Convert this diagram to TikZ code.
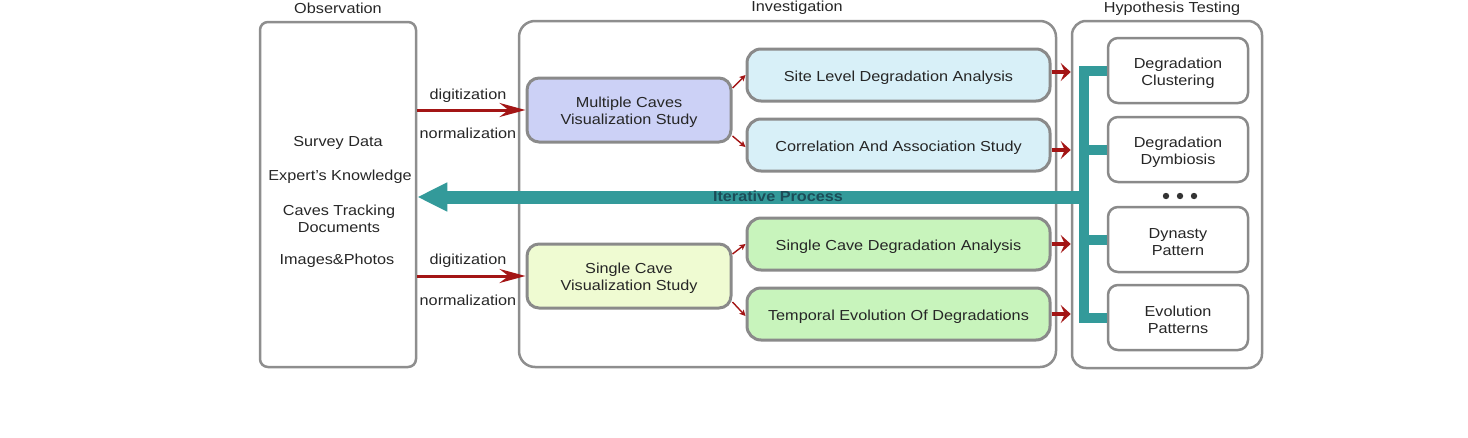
\documentclass[tikz,border=0pt]{standalone}
\usepackage{fontspec}
\setmainfont{Liberation Sans}[FakeStretch=1.12]
\usetikzlibrary{arrows.meta}
\definecolor{framegray}{HTML}{8E8E8E}
\definecolor{boxgray}{HTML}{8A8A8A}
\definecolor{mcfill}{HTML}{CCD1F6}
\definecolor{scfill}{HTML}{EFFBD2}
\definecolor{slfill}{HTML}{D8F0F8}
\definecolor{sdfill}{HTML}{C8F4BC}
\definecolor{tealc}{HTML}{339A9A}
\definecolor{darkred}{HTML}{A31515}
\definecolor{itertext}{HTML}{1C4C58}
\definecolor{dotc}{HTML}{333333}
\begin{document}
\begin{tikzpicture}[x=1pt,y=-1pt,
  every node/.style={font=\fontsize{14.5}{17}\selectfont, inner sep=0pt, align=center, text=black!85},
  txt/.style={yshift=-2.5pt},
  frame/.style={draw=framegray, line width=2.5pt},
  studybox/.style={draw=boxgray, line width=3pt, rounded corners=12pt, minimum width=204pt, minimum height=64pt},
  anabox/.style={draw=boxgray, line width=3pt, rounded corners=14pt, minimum width=303pt, minimum height=52pt},
  hypbox/.style={draw=boxgray, line width=2.5pt, fill=white, rounded corners=10pt, minimum width=140pt, minimum height=65pt},
  redarrow/.style={draw=darkred, line width=3pt, -{Stealth[length=26pt,width=14pt,inset=9pt]}},
  smallarrow/.style={draw=darkred, line width=1.4pt, -{Stealth[length=6pt,width=6pt,inset=1.5pt]}},
  fatarrow/.style={draw=darkred, line width=4.5pt, -{Stealth[length=10pt,width=18pt,inset=4pt]}},
  tealline/.style={draw=tealc, line width=10pt, line join=miter, line cap=butt},
]
\useasboundingbox (0,0) rectangle (1468,437);

% frames
\node[frame, rounded corners=8pt, minimum width=156pt, minimum height=345pt] (obs) at (338,194.5) {};
\node (obst) at (338,8) {Observation};
\node[frame, rounded corners=16pt, minimum width=537pt, minimum height=346pt] (inv) at (787.5,194) {};
\node (invt) at (797,8) {Investigation};
\node[frame, rounded corners=14pt, minimum width=190pt, minimum height=347pt] (hyp) at (1167,194.5) {};
\node (hypt) at (1172,9) {Hypothesis Testing};

% observation texts
\node[txt] (t1) at (338,140) {Survey Data};
\node[txt] (t2) at (340,174) {Expert’s Knowledge};
\node[txt] (t3) at (339,216.5) {Caves Tracking\\Documents};
\node[txt] (t4) at (337,258) {Images\&Photos};

% study boxes
\node[studybox, fill=mcfill] (mc) at (629,110) {};
\node[txt] (mct) at (mc) {Multiple Caves\\Visualization Study};
\node[studybox, fill=scfill] (sc) at (629,276) {};
\node[txt] (sct) at (sc) {Single Cave\\Visualization Study};

% analysis boxes
\node[anabox, fill=slfill] (sl) at (898.5,75) {};
\node[txt] (slt) at (sl) {Site Level Degradation Analysis};
\node[anabox, fill=slfill] (ca) at (898.5,145) {};
\node[txt] (cat) at (ca) {Correlation And Association Study};
\node[anabox, fill=sdfill] (sd) at (898.5,244) {};
\node[txt] (sdt) at (sd) {Single Cave Degradation Analysis};
\node[anabox, fill=sdfill] (te) at (898.5,314) {};
\node[txt] (tet) at (te) {Temporal Evolution Of Degradations};

% hypothesis boxes
\node[hypbox] (dc) at (1178,70.5) {};
\node[txt] (dct) at (dc) {Degradation\\Clustering};
\node[hypbox] (dd) at (1178,149.5) {};
\node[txt] (ddt) at (dd) {Degradation\\Dymbiosis};
\node[hypbox] (dp) at (1178,239.5) {};
\node[txt] (dpt) at (dp) {Dynasty\\Pattern};
\node[hypbox] (ep) at (1178,317.5) {};
\node[txt] (ept) at (ep) {Evolution\\Patterns};
\coordinate (dots) at (1180,196);
\fill[dotc] ([xshift=-14pt]dots) circle (3.2pt) (dots) circle (3.2pt) ([xshift=14pt]dots) circle (3.2pt);

% digitization arrows
\draw[redarrow] (obs.east |- mc.west) -- (mc.west);
\node[txt] (dg1) at (468,93) {digitization};
\node[txt] (nm1) at (468,131) {normalization};
\draw[redarrow] (obs.east |- sc.west) -- (sc.west);
\node[txt] (dg2) at (468,258) {digitization};
\node[txt] (nm2) at (468,298) {normalization};

% small arrows
\draw[smallarrow] ([yshift=22pt]mc.east) -- (sl.west);
\draw[smallarrow] ([yshift=-26pt]mc.east) -- ([yshift=-2pt]ca.west);
\draw[smallarrow] ([yshift=22pt]sc.east) -- (sd.west);
\draw[smallarrow] ([yshift=-26pt]sc.east) -- ([yshift=-2pt]te.west);

% fat arrows to hypothesis frame
\coordinate (a1) at ([yshift=3pt]sl.east);
\coordinate (a2) at ([yshift=-5pt]ca.east);
\draw[fatarrow] (a1) -- (hyp.west |- a1);
\draw[fatarrow] (a2) -- (hyp.west |- a2);
\draw[fatarrow] (sd.east) -- (hyp.west |- sd.east);
\draw[fatarrow] (te.east) -- (hyp.west |- te.east);

% teal comb
\coordinate (cx) at (1084,197);
\draw[tealline] (dc.west) -- (cx |- dc.west) -- (cx |- ep.west) -- (ep.west);
\draw[tealline] (cx |- dd.west) -- (dd.west);
\draw[tealline] (cx |- dp.west) -- (dp.west);
\draw[draw=tealc, line width=13pt, -{Triangle[length=30pt,width=27pt]}] ([xshift=5pt]cx) -- (obs.east |- cx);
\node[font=\fontsize{14.5}{17}\selectfont\bfseries, text=itertext] (iter) at (778,196) {Iterative Process};
\end{tikzpicture}
\end{document}
